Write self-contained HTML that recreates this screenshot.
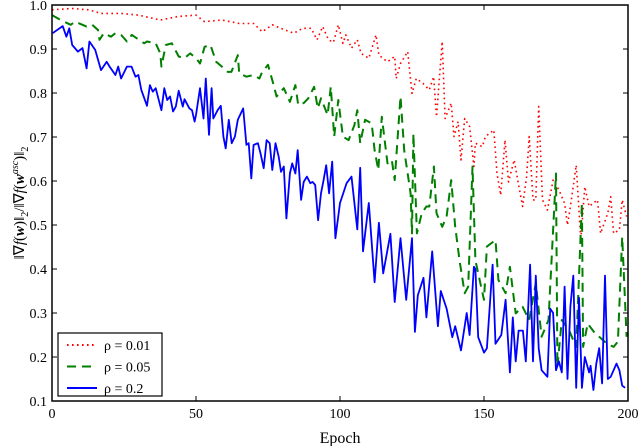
<!DOCTYPE html>
<html><head><meta charset="utf-8"><style>
body{margin:0;background:#fff}
svg{display:block;font-family:"Liberation Serif",serif}
</style></head><body>
<svg id="chart" width="640" height="446" viewBox="0 0 640 446">
<g id="marks"></g>
<g id="axes"></g>
</svg>
<script>
const xTicks=[0,50,100,150,200];
const yTicks=[0.1,0.2,0.3,0.4,0.5,0.6,0.7,0.8,0.9,1.0];
const yTickLabels=["0.1","0.2","0.3","0.4","0.5","0.6","0.7","0.8","0.9","1.0"];
const blueEpochs=[0.2,3.7,5,6,7,9,10.6,12,13,15,17,19,20,22,23,24,26,27.6,29,30,31,33,34,35,36,38,39,40,41,42,43,44,45.4,46,47.7,48.6,49.5,50,51.4,52.6,53.4,54.5,55.4,56,57.5,58.6,59.5,60.3,61.4,62.4,63.5,64.5,66.4,67.5,68.3,69.2,70,71.5,72.4,73.5,74.5,75.6,76.5,77.6,78.7,79.5,80.5,81.4,82.6,83.4,84.5,85.3,86.5,87.4,88.5,89.7,90.5,91.4,92.4,93.4,94.3,95.2,96.2,97.3,98.4,100,102.3,104,106,107,108,110,112,113.5,115,117.5,119,121,123,125,126,127,129,130,132,134,135,137,139,140,142,144,145,146.5,147,148,150,151,153,154,156,157.5,159,160,161,162,163.5,164.5,166,167,168,169,170,172,173,174,175,176,177,178,179,180,181,182,183,184,185,186.5,187,188,189,190,191,192,193,194,196,197,198,199];
const blueValues=[0.936,0.952,0.928,0.947,0.909,0.894,0.902,0.856,0.917,0.898,0.852,0.871,0.860,0.841,0.860,0.833,0.860,0.860,0.837,0.841,0.807,0.771,0.818,0.803,0.811,0.761,0.811,0.784,0.792,0.758,0.769,0.805,0.769,0.786,0.765,0.761,0.735,0.750,0.811,0.742,0.833,0.705,0.811,0.742,0.761,0.771,0.701,0.674,0.739,0.686,0.701,0.739,0.765,0.682,0.686,0.606,0.682,0.686,0.663,0.629,0.693,0.686,0.625,0.686,0.655,0.621,0.633,0.515,0.617,0.640,0.617,0.670,0.557,0.598,0.610,0.595,0.598,0.591,0.511,0.572,0.602,0.636,0.572,0.644,0.470,0.55,0.595,0.61,0.49,0.63,0.44,0.55,0.37,0.505,0.39,0.48,0.325,0.47,0.33,0.47,0.257,0.34,0.38,0.29,0.44,0.27,0.35,0.31,0.245,0.27,0.215,0.30,0.25,0.405,0.40,0.245,0.21,0.22,0.41,0.23,0.25,0.33,0.165,0.29,0.19,0.26,0.26,0.19,0.41,0.19,0.385,0.22,0.17,0.155,0.31,0.30,0.17,0.19,0.165,0.36,0.15,0.315,0.385,0.13,0.335,0.13,0.20,0.165,0.18,0.125,0.185,0.22,0.14,0.385,0.15,0.155,0.185,0.17,0.135,0.13];
const greenEpochs=[0,3,6.5,8,12,14,16,16.5,18,20.5,22,24,26,27.7,29.5,32,33,36,37.6,38,39.5,41.6,44,46,48,50,51.4,53,55,57,59,61,62.3,64.5,65,67.5,70,72,73,75,76.5,78,80.5,82.6,84.5,85.5,87.4,89,91,92.3,93.4,95.7,96.8,98,99.4,101,103,105,106,107,108.7,111,112,113.3,114.5,116.5,118,119,121,122.3,124.5,125,125.5,126.7,128.4,130,131,132.6,133.5,135.5,137,138.6,140,141.5,143.3,144.5,146,147,148,150,151,154,155,157.5,159,161,163.4,165.7,168,170,172.4,175,175.5,177,179.5,182,184,184.4,186,188.5,190,192.6,195,196.5,198,199.5];
const greenValues=[0.977,0.966,0.955,0.962,0.951,0.955,0.943,0.921,0.936,0.928,0.936,0.932,0.917,0.932,0.924,0.913,0.917,0.913,0.890,0.860,0.909,0.913,0.883,0.879,0.890,0.879,0.867,0.905,0.909,0.871,0.860,0.848,0.848,0.886,0.845,0.837,0.841,0.833,0.848,0.864,0.829,0.792,0.811,0.780,0.818,0.773,0.777,0.788,0.814,0.765,0.788,0.750,0.814,0.701,0.784,0.701,0.693,0.727,0.761,0.686,0.739,0.731,0.670,0.625,0.746,0.640,0.648,0.602,0.792,0.670,0.572,0.481,0.708,0.481,0.527,0.542,0.542,0.633,0.527,0.496,0.519,0.602,0.496,0.420,0.345,0.360,0.633,0.420,0.390,0.330,0.451,0.466,0.375,0.345,0.405,0.299,0.314,0.284,0.368,0.246,0.284,0.617,0.178,0.284,0.261,0.223,0.549,0.223,0.276,0.254,0.246,0.231,0.223,0.235,0.473,0.246];
const redEpochs=[0,7,12.7,17,24,30,37.6,44,50,53,59,65,70,73,76.5,81,84,87,90,92,94,96,97.7,99.4,101,102,104,106,107.3,110,112.5,113.5,116.5,119,119.5,121,123.5,125,126.5,128.8,131,132.5,133.5,135.5,136.5,138.6,139.6,141,142,143.3,145,146.5,147,149.4,150.5,153.4,154.5,155.8,157.3,158.5,160.5,161.5,163.4,164.8,165.7,167,168,169,170.3,172,174,176,178,179,180,182,183.6,185,186.5,189.4,190.5,193,194,195,197,198,199.5];
const redValues=[0.989,0.992,0.989,0.981,0.981,0.977,0.966,0.974,0.977,0.962,0.966,0.958,0.958,0.939,0.955,0.943,0.936,0.947,0.947,0.921,0.951,0.921,0.915,0.955,0.913,0.932,0.902,0.921,0.890,0.879,0.932,0.886,0.871,0.883,0.833,0.867,0.894,0.799,0.833,0.822,0.807,0.837,0.746,0.917,0.742,0.777,0.701,0.735,0.648,0.742,0.724,0.633,0.686,0.678,0.701,0.716,0.617,0.568,0.693,0.598,0.648,0.610,0.542,0.610,0.701,0.557,0.557,0.769,0.557,0.534,0.602,0.580,0.549,0.500,0.542,0.636,0.466,0.587,0.542,0.557,0.481,0.527,0.564,0.481,0.489,0.557,0.519];

const L=52,R=628,T=5,B=401;
const xs=e=>L+(e-0)/(200-0)*(R-L);
const ys=v=>B-(v-0.1)/(1.0-0.1)*(B-T);
const NS="http://www.w3.org/2000/svg";
const marks=document.getElementById('marks'),axes=document.getElementById('axes');
function mk(tag,attrs,parent){const e=document.createElementNS(NS,tag);for(const k in attrs)e.setAttribute(k,attrs[k]);parent.appendChild(e);return e;}
function line(ep,vals,color,dash,w,name){
  const d=ep.map((e,i)=>(i?'L':'M')+xs(e).toFixed(1)+','+ys(vals[i]).toFixed(1)).join('');
  const p=mk('path',{d:d,fill:'none',stroke:color,'stroke-width':w,'stroke-dasharray':dash,'stroke-linejoin':'round'},marks);
  
  
}
line(redEpochs,redValues,'#ff0000','1.6 3.4',1.6,'series-rho-0.01');
line(greenEpochs,greenValues,'#007f00','9 6',2,'series-rho-0.05');
line(blueEpochs,blueValues,'#0000ff','',1.8,'series-rho-0.2');

const frame=mk('rect',{x:L,y:T,width:R-L,height:B-T,fill:'none',stroke:'#000','stroke-width':1.5},axes);


xTicks.forEach(t=>{
  const x=xs(t);
  mk('line',{x1:x,x2:x,y1:B,y2:B-5,stroke:'#000'},axes);
  mk('line',{x1:x,x2:x,y1:T,y2:T+5,stroke:'#000'},axes);
  const tx=mk('text',{x:x,y:B+17,'text-anchor':'middle','font-size':14},axes);
  tx.textContent=t;
  
  
});
yTicks.forEach((t,i)=>{
  const y=ys(t);
  mk('line',{x1:L,x2:L+5,y1:y,y2:y,stroke:'#000'},axes);
  mk('line',{x1:R,x2:R-5,y1:y,y2:y,stroke:'#000'},axes);
  const tx=mk('text',{x:L-5,y:y+5,'text-anchor':'end','font-size':14},axes);
  tx.textContent=yTickLabels[i];
  
  
});
const xt=mk('text',{x:340,y:443,'text-anchor':'middle','font-size':16},axes);
xt.textContent='Epoch';


const yt=mk('text',{x:0,y:0,'text-anchor':'middle','font-size':15,transform:'translate(24,203) rotate(-90)'},axes);
yt.innerHTML='‖∇<tspan font-style="italic">f</tspan>(<tspan font-weight="bold" font-style="italic">w</tspan>)‖<tspan font-size="10" dy="4">2</tspan><tspan dy="-4">/‖∇</tspan><tspan font-style="italic">f</tspan>(<tspan font-weight="bold" font-style="italic">w</tspan><tspan font-size="10" font-style="italic" dy="-6">asc</tspan><tspan dy="6">)‖</tspan><tspan font-size="10" dy="4">2</tspan>';



const lg=mk('g',{},axes);


mk('rect',{x:58,y:333,width:104,height:63,fill:'#fff',stroke:'#000','stroke-width':1.2},lg);
const entries=[['ρ = 0.01','#ff0000','1.6 3.4'],['ρ = 0.05','#007f00','9 6'],['ρ = 0.2','#0000ff','']];
entries.forEach((en,i)=>{
  const y=345+i*21.5;
  const g=mk('g',{},lg);
  
  
  mk('line',{x1:67,x2:97,y1:y,y2:y,stroke:en[1],'stroke-width':2,'stroke-dasharray':en[2]},g);
  const t=mk('text',{x:104,y:y+5,'font-size':14},g);
  t.textContent=en[0];
});
</script>
</body></html>
